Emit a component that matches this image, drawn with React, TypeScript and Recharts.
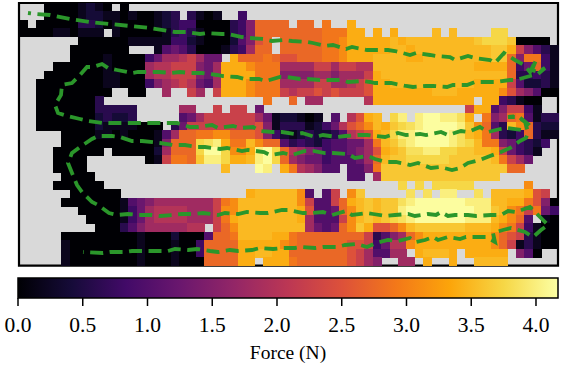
import React from 'react';
import { ScatterChart, Scatter, XAxis, YAxis, ReferenceArea } from 'recharts';

const WIDTH = 563;
const HEIGHT = 368;
const SERIF = '"Liberation Serif", "Times New Roman", serif';
const MASK_GREY = '#d9d9d9';
const TRACK_GREEN = '#2b962b';

// map window on the table, in picture units
const MAP_X: [number, number] = [19, 558];
const MAP_Y: [number, number] = [3, 265.6];
const COLS = 64;

// one character per grid cell, '.' is a cell that was never visited
const forceLevelKeys = '0123456789abcdefghijkl';
const forceLevels = [0, 0.2, 0.4, 0.6, 0.8, 1.0, 1.25, 1.5, 1.8, 2.0, 2.25, 2.5, 2.75, 2.9, 3.1, 3.4, 3.5, 3.62, 3.75, 3.85, 4.0, 4.15];

const forceRows = [
  '...0000121 0.0....... .......... .......... .......... .......... ....',
  '...0000122 110100123. 3101..4... .......... .......... .......... ....',
  '0.00000332 0100001234 40000347cc cc.cc.d..f .......... .......... ....',
  '0000110111 .100000134 31000347cc ccccccdddf f.f.f....g .g....ii.. ....',
  '.......000 0001111144 21000257bc .cccccddef ffffgfgggg gggghiiih0 000.',
  '......0000 000...1565 30001348cc .cccccddef ffffggfggg gggggghhfa 7531',
  '......0000 1000046889 a866.fcccd cbbcccddef ffggggffgg gggggghhc7 dd41',
  '....000000 10000899aa a768fffedd d8888aa8aa 99gggggggg ggggffffc4 6c41',
  '...0000000 11000899aa a768ffffdd d777788788 8afggggggg ggggggggc3 3431',
  '..00000000 110004789a 9658fffedd d8888aa889 abffgggggg ggggffffa5 2231',
  '..00000000 0..00..8.. a8.afffedd da9aababaa abfffffffg ggfffffeb8 7500',
  '..00000003 .......... .........d ..c.88.... .9ffffffff ffff.ff431 00..',
  '..00000003 3333.....8 8..a.aa.6. .......... .......... ...aff57aa 41..',
  '..00000002 3223.....5 68aaaaaa86 122101.5.9 bfg.ik.kll kkjf.d78cd 5133',
  '..00000002 1111000.36 aaaaaaaab7 133312469b cegfhijkll llkhec53ge c322',
  '.....00001 101000158c cddeecccb7 4212322359 abfgikklll lkjgfd8324 c311',
  '.....00000 00000017cc cijkfddgec c534324556 68dghjklll lkjigdd764 324.',
  '....000000 .0000028cc cillieefkl ic98764556 78bfghjjkk iihhggfa64 31..',
  '....0000.. .....01add chkkiffgkl ic87664555 68cghhiiii ihhhhhgda8 6...',
  '....0000.. .......... ....g...lk .fd98755.5 57dhhhhhhh hhhhhhhhcc ....',
  '.....0000. .......... .......... .........5 5.8hhhhhhh hhhhhhh... ....',
  '....000000 .......... .......... .......... .....i.i.i iiii...... e...',
  '......0000 00........ .......fgg ggge5.5a.e h.....j.j. kk..j.gggg fba.',
  '.....00000 0015678888 888adegggg gggea55acf ghghhjklll lllkkkggff db70',
  '.......000 0014689999 888aeegggg gggfb556ce ghghhkllll llllkkhged ad64',
  '........00 0014689999 888adfgggg gggf8555ae ghghijklll lllkkkgfec 5.10',
  '.........0 0035788888 99.acegggg gggg8656ce hfbbceghhh hhhgggfeda 4100',
  '.....00000 0000100020 005ccdgggg ffdccccccc ca3578ceff ffffffecba 3100',
  '.....10000 0000100010 04ccccffff fedccccccb ba4699efff ffffffeca1 3100',
  '.....10000 0000100010 04ccccffgg ffcccccccb a85588.fgg gf.fffff.7 50..',
  '.....10000 0000100010 00ccccff.f ffdccccccb a87..88.f. .f..gggg.. ....',
];

// path of the end effector, same units as the map window
const trackPoints = [
  [28,13],[36,14],[50,15],[70,19],[90,22],[110,24],[130,26],[150,28],[175,32],[186,32],[200,34],[207,33],[222,34],[228,34],[242,37],[250,38],[264,39],[272,41],[285,40],[292,41],[307,42],[313,43],[325,46],[333,45],[346,49],[352,47],[367,50],[373,50],[388,50],[395,51],[410,55],[416,53],[430,55],[436,56],[450,57],[455,60],[468,56],[475,58],[490,60],[495,63],[504,53],[515,60],[524,65],[530,72],[536,60],[532,70],[538,72],[545,68],[538,74],[530,76],[516,80],
  [510,80],[495,82],[480,82],[475,82],[467,85],[453,85],[447,87],[433,86],[426,86],[413,87],[406,86],[391,83],[385,83],[375,83],[370,82],[362,81],[348,82],[342,80],[328,80],[320,80],[307,79],[300,79],[287,77],[280,77],[266,81],[259,79],[245,79],[237,77],[223,76],[217,75],[202,73],[190,73],[180,72],[172,73],[159,72],[150,72],[138,72],[132,73],[117,70],[108,68],[102,64],[93,67],[87,67],[80,75],[72,83],[62,85],[61,95],[55,105],[58,113],[67,116],[80,119],[88,121],[103,123],[115,123],[132,123],[145,123],[167,123],[177,123],
  [190,127],[197,127],[212,125],[218,128],[233,126],[240,128],[253,127],[260,131],[273,132],[282,132],[295,134],[302,133],[315,137],[323,135],[337,137],[345,136],[358,135],[367,135],[385,137],[398,133],[406,135],[420,134],[426,135],[441,132],[448,135],[461,131],[468,132],[480,127],[488,132],[500,129],[508,128],[521,130],[528,124],[518,116],[508,117],[518,117],[525,122],[528,132],[526,138],[520,141],[510,148],
  [501,152],[490,156],[480,160],[468,163],[460,168],[452,170],[440,167],[431,168],[418,163],[410,165],[396,162],[386,162],[375,159],[368,156],[355,158],[348,154],[333,153],[325,153],[313,151],[305,151],[292,155],[283,153],[270,155],[264,152],[248,150],[242,151],[227,148],[220,149],[205,147],[198,147],[185,145],[173,145],[160,143],[142,141],[132,141],[120,137],[112,136],[98,136],[92,139],[80,147],[72,153],[68,163],[72,173],[77,185],[82,192],[92,202],[98,205],[109,213],[117,215],[128,214],[138,215],[152,215],[160,216],[173,215],[182,214],
  [195,214],[203,213],[218,215],[225,213],[238,214],[247,212],[260,213],[268,213],[282,210],[289,210],[303,213],[311,213],[323,212],[332,215],[346,211],[352,215],[367,213],[373,214],[386,216],[395,215],[408,214],[415,216],[428,214],[436,215],[441,212],[448,216],[455,215],[468,215],[476,216],[491,215],[501,215],[508,211],[516,212],[530,207],[536,213],[543,220],[548,225],[541,230],[533,237],[525,232],[511,228],[503,230],[493,233],[495,242],[486,237],[480,237],[466,237],[460,239],[448,237],[438,240],[433,237],[425,240],[416,242],[410,238],[398,241],[388,240],[376,243],
  [367,247],[357,244],[345,245],[337,247],[323,247],[315,248],[302,247],[295,248],[282,248],[273,249],[260,248],[252,250],[238,251],[230,250],[218,252],[210,251],[197,249],[188,250],[175,249],[168,251],[155,251],[147,251],[132,251],[125,252],[110,252],[103,253],[83,252],
];

const forceTicks = [0, 0.5, 1, 1.5, 2, 2.5, 3, 3.5, 4];
const FORCE_MAX = 4.17;
const infernoStops = ['#000004', '#160b39', '#420a68', '#6a176e', '#932667', '#bc3754', '#dd513a', '#f37819', '#fca50a', '#f6d746', '#fcffa4'];

const hexToRgb = (hex: string) => [1, 3, 5].map((i) => parseInt(hex.slice(i, i + 2), 16));

const inferno = (t: number) => {
  const pos = Math.min(Math.max(t, 0), 1) * (infernoStops.length - 1);
  const i = Math.min(Math.floor(pos), infernoStops.length - 2);
  const a = hexToRgb(infernoStops[i]);
  const b = hexToRgb(infernoStops[i + 1]);
  const c = a.map((v, k) => Math.round(v + (b[k] - v) * (pos - i)));
  return `rgb(${c[0]},${c[1]},${c[2]})`;
};

const cellW = (MAP_X[1] - MAP_X[0]) / COLS;
const cellH = (MAP_Y[1] - MAP_Y[0]) / forceRows.length;

const cells = forceRows.flatMap((row, r) =>
  row
    .replace(/ /g, '')
    .split('')
    .flatMap((ch, c) =>
      ch === '.'
        ? []
        : [{
            x: MAP_X[0] + (c + 0.5) * cellW,
            y: MAP_Y[0] + (r + 0.5) * cellH,
            force: forceLevels[forceLevelKeys.indexOf(ch)],
          }]
    )
);

const track = trackPoints.map(([x, y]) => ({ x, y }));
const barSamples = forceTicks.map((x) => ({ x, y: 0.5 }));

const HeatCell = (props: any) => {
  const { cx, cy, payload } = props;
  return (
    <rect
      x={cx - cellW / 2}
      y={cy - cellH / 2}
      width={cellW + 0.5}
      height={cellH + 0.5}
      fill={inferno(payload.force / FORCE_MAX)}
      shapeRendering="crispEdges"
    />
  );
};

const NoDot = () => <g />;

export default function App() {
  return (
    <div style={{ position: 'absolute', left: 0, top: 0, width: WIDTH, height: HEIGHT, background: '#fff' }}>
      <div style={{ position: 'absolute', left: 0, top: 0 }}>
        <ScatterChart
          width={WIDTH}
          height={HEIGHT}
          margin={{ left: MAP_X[0], right: WIDTH - MAP_X[1], top: MAP_Y[0], bottom: HEIGHT - MAP_Y[1] }}
        >
          <XAxis type="number" dataKey="x" domain={MAP_X} hide />
          <YAxis type="number" dataKey="y" domain={MAP_Y} reversed hide />
          <ReferenceArea x1={MAP_X[0]} x2={MAP_X[1]} y1={MAP_Y[0]} y2={MAP_Y[1]} fill={MASK_GREY} fillOpacity={1} stroke="none" />
          <Scatter data={cells} shape={HeatCell} isAnimationActive={false} />
          <Scatter
            data={track}
            shape={NoDot}
            line={{ stroke: TRACK_GREEN, strokeWidth: 3.8, strokeDasharray: '13 6.5', strokeDashoffset: 10 }}
            isAnimationActive={false}
          />
          <ReferenceArea x1={MAP_X[0]} x2={MAP_X[1]} y1={MAP_Y[0]} y2={MAP_Y[1]} fill="none" stroke="#000" strokeWidth={2.2} />
        </ScatterChart>
      </div>
      <div style={{ position: 'absolute', left: 0, top: 0 }}>
        <ScatterChart width={WIDTH} height={HEIGHT} margin={{ left: 18, right: 5, top: 278, bottom: 0 }}>
          <defs>
            <linearGradient id="infernoBar" x1="0" y1="0" x2="1" y2="0">
              {infernoStops.map((color, i) => (
                <stop key={color} offset={i / (infernoStops.length - 1)} stopColor={color} />
              ))}
            </linearGradient>
          </defs>
          <XAxis
            type="number"
            dataKey="x"
            domain={[0, FORCE_MAX]}
            ticks={forceTicks}
            interval={0}
            height={70}
            axisLine={false}
            tickLine={{ stroke: '#000', strokeWidth: 1.5 }}
            tickSize={8}
            tick={{ fill: '#000', fontSize: 21.5, fontFamily: SERIF, dy: 9 }}
            tickFormatter={(v: number) => v.toFixed(1)}
            label={{ value: 'Force (N)', position: 'insideBottom', offset: 9, fill: '#000', fontSize: 19.5, fontFamily: SERIF }}
          />
          <YAxis type="number" dataKey="y" domain={[0, 1]} hide />
          <ReferenceArea x1={0} x2={FORCE_MAX} y1={0} y2={1} fill="url(#infernoBar)" fillOpacity={1} stroke="#000" strokeWidth={1.5} />
          <Scatter data={barSamples} shape={NoDot} isAnimationActive={false} />
        </ScatterChart>
      </div>
    </div>
  );
}
